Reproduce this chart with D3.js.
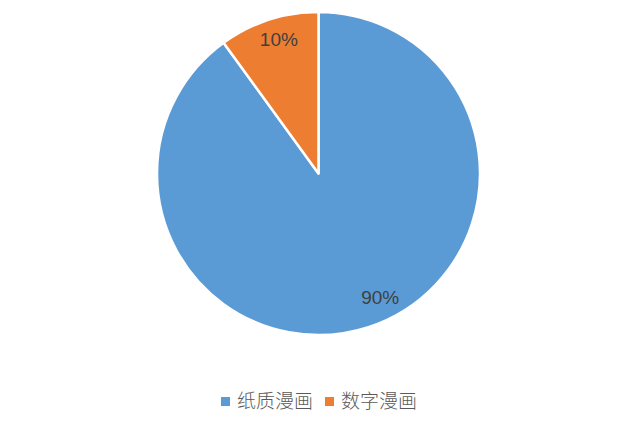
<!DOCTYPE html>
<html lang="zh">
<head>
    <meta charset="UTF-8">
    <title>纸质漫画 vs 数字漫画</title>
    <style>
        html, body { margin: 0; padding: 0; background: #fff; }
    </style>
</head>
<body>
<script src="https://d3js.org/d3.v7.min.js"></script>
<script>
// chart data
var categories = ["纸质漫画", "数字漫画"];
var values = [90, 10];
var labels = ["90%", "10%"];
var colors = ["#5B9BD5", "#ED7D31"];

(function() {
    var width = 640;
    var height = 422;
    var cx = 318.5, cy = 173.5;
    var radius = 161.5;

    var svg = d3.select("body").append("svg")
        .attr("width", width)
        .attr("height", height);

    var color = d3.scaleOrdinal().domain(categories).range(colors);

    var pie = d3.pie()
        .sort(null)
        .value(function(d) { return d.value; });

    var data = categories.map(function(c, i) {
        return { name: c, value: values[i], label: labels[i] };
    });

    var arc = d3.arc().innerRadius(0).outerRadius(radius);
    var labelArc = d3.arc().innerRadius(138).outerRadius(138);
    // excel "best fit" nudges the labels a bit off the mid angle
    var nudge = [[19, -8], [3, -3]];

    var g = svg.append("g")
        .attr("transform", "translate(" + cx + "," + cy + ")");

    var slice = g.selectAll(".arc")
        .data(pie(data))
        .enter().append("g")
        .attr("class", "arc");

    slice.append("path")
        .attr("d", arc)
        .style("fill", function(d) { return color(d.data.name); })
        .style("stroke", "#fff")
        .style("stroke-width", 2.5)
        .style("stroke-linejoin", "round");

    slice.append("text")
        .attr("transform", function(d, i) {
            var c = labelArc.centroid(d);
            return "translate(" + (c[0] + nudge[i][0]) + "," + (c[1] + nudge[i][1]) + ")";
        })
        .attr("text-anchor", "middle")
        .attr("dy", ".36em")
        .style("font-family", "'Liberation Sans', Arial, sans-serif")
        .style("font-size", "19px")
        .style("fill", "#404040")
        .text(function(d) { return d.data.label; });

    // legend
    var legendX = [221, 325];
    var legend = svg.selectAll(".legend")
        .data(data)
        .enter().append("g")
        .attr("class", "legend")
        .attr("transform", function(d, i) { return "translate(" + legendX[i] + ",401.5)"; });

    legend.append("rect")
        .attr("x", 0)
        .attr("y", -4.5)
        .attr("width", 9)
        .attr("height", 9)
        .style("fill", function(d) { return color(d.name); });

    legend.append("text")
        .attr("x", 16)
        .attr("dy", ".36em")
        .style("font-family", "'Noto Sans CJK SC', sans-serif")
        .style("font-weight", 300)
        .style("font-size", "19px")
        .style("fill", "#595959")
        .text(function(d) { return d.name; });
})();
</script>
</body>
</html>
